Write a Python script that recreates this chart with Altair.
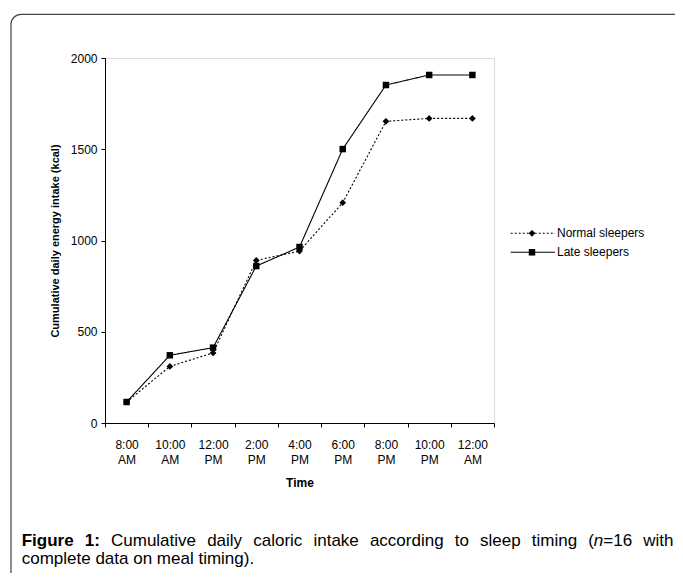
import altair as alt
import pandas as pd

times = ["8:00 AM", "10:00 AM", "12:00 PM", "2:00 PM", "4:00 PM",
         "6:00 PM", "8:00 PM", "10:00 PM", "12:00 AM"]
normal = [115, 310, 384, 891, 942, 1207, 1653, 1669, 1669]
late = [115, 371, 413, 860, 964, 1501, 1852, 1907, 1907]
series_names = ["Normal sleepers", "Late sleepers"]
y_title = "Cumulative daily energy intake (kcal)"
x_title = "Time"
# caption first line: (word, weight, style, joined-to-previous)
caption_line1 = [("Figure", "bold", "normal", False), ("1:", "bold", "normal", False),
                 ("Cumulative", "normal", "normal", False), ("daily", "normal", "normal", False),
                 ("caloric", "normal", "normal", False), ("intake", "normal", "normal", False),
                 ("according", "normal", "normal", False), ("to", "normal", "normal", False),
                 ("sleep", "normal", "normal", False), ("timing", "normal", "normal", False),
                 ("(", "normal", "normal", False), ("n", "normal", "italic", True),
                 ("=16", "normal", "normal", True), ("with", "normal", "normal", False)]
caption_line2 = "complete data on meal timing)."

FONT = "Arial, Liberation Sans, sans-serif"
CAP_FS = 17

# Arial / Liberation Sans advance widths (per 1000 em) for layout of the justified line
REG = {" ": 278, "(": 333, ")": 333, ".": 278, "=": 584, "1": 556, "6": 556, ":": 278,
       "a": 556, "c": 500, "d": 556, "e": 556, "g": 556, "h": 556, "i": 222, "k": 500,
       "l": 222, "m": 833, "n": 556, "o": 556, "p": 556, "r": 333, "s": 500, "t": 278,
       "u": 556, "v": 500, "w": 722, "y": 500, "C": 722}
BOLD = {"F": 611, "i": 278, "g": 611, "u": 611, "r": 389, "e": 556, "1": 556, ":": 333}


def text_w(s, weight):
    tab = BOLD if weight == "bold" else REG
    return sum(tab.get(ch, 556) for ch in s) * CAP_FS / 1000.0


rows = []
for name, vals in zip(series_names, [normal, late]):
    for t, v in zip(times, vals):
        rows.append({"time": t, "kcal": v, "series": name})
df = pd.DataFrame(rows)

W, H = 389, 365
OX = 105  # page x of plot origin (layout only)

x_enc = alt.X("time:N", sort=times,
              scale=alt.Scale(type="band", domain=times, paddingInner=0, paddingOuter=0),
              axis=alt.Axis(title=x_title, tickBand="extent", labelAngle=0,
                            labelExpr="split(datum.label, ' ')",
                            labelLineHeight=15, labelPadding=12, tickSize=4,
                            labelFontSize=12, titleFontSize=12, titleFontWeight="bold",
                            titlePadding=12, labelColor="#000", titleColor="#000",
                            domainColor="#000", tickColor="#000", labelFont=FONT,
                            titleFont=FONT))
y_enc = alt.Y("kcal:Q", scale=alt.Scale(domain=[0, 2000], nice=False),
              axis=alt.Axis(title=y_title, values=[0, 500, 1000, 1500, 2000],
                            format="d",
                            grid=False, tickSize=4, labelPadding=4, labelFontSize=12,
                            titleFontSize=11, titleFontWeight="bold", titlePadding=10,
                            labelColor="#000", titleColor="#000", domainColor="#000",
                            tickColor="#000", labelFont=FONT, titleFont=FONT))

dash_scale = alt.Scale(domain=series_names, range=[[2, 2], [1, 0]])
shape_scale = alt.Scale(domain=series_names, range=["diamond", "square"])
size_scale = alt.Scale(domain=series_names, range=[45, 42])

lines = alt.Chart(df).mark_line(color="#000", strokeWidth=1.1).encode(
    x=x_enc, y=y_enc,
    strokeDash=alt.StrokeDash("series:N", scale=dash_scale, legend=None),
    detail="series:N",
)
points = alt.Chart(df).mark_point(filled=True, color="#000", opacity=1).encode(
    x=x_enc, y=y_enc,
    shape=alt.Shape("series:N", scale=shape_scale, legend=None),
    size=alt.Size("series:N", scale=size_scale, legend=None),
)
main = alt.layer(lines, points)

leg_df = pd.DataFrame({"series": series_names})
leg_y = alt.Y("series:N", scale=alt.Scale(type="point", domain=series_names,
                                          range=[175.3, 194.3], padding=0), axis=None)
leg_rule = alt.Chart(leg_df).mark_rule(color="#000", strokeWidth=1.1).encode(
    x=alt.value(405.7), x2=alt.value(450), y=leg_y,
    strokeDash=alt.StrokeDash("series:N", scale=dash_scale, legend=None),
)
leg_pt = alt.Chart(leg_df).mark_point(filled=True, color="#000", opacity=1).encode(
    x=alt.value(427), y=leg_y,
    shape=alt.Shape("series:N", scale=shape_scale, legend=None),
    size=alt.Size("series:N", scale=size_scale, legend=None),
)
leg_txt = alt.Chart(leg_df).mark_text(align="left", baseline="middle", fontSize=12,
                                      font=FONT, color="#000").encode(
    x=alt.value(452), y=leg_y, text="series:N",
)
legend = alt.layer(leg_rule, leg_pt, leg_txt)


def cap(text, x, y, weight="normal", style="normal"):
    return alt.Chart(pd.DataFrame({"t": [text]})).mark_text(
        align="left", baseline="alphabetic", fontSize=CAP_FS, font=FONT, color="#000",
        fontWeight=weight, fontStyle=style,
    ).encode(x=alt.value(x - OX), y=alt.value(y), text="t:N")


# justified first line between page x 21.7 and 673.5
LEFT, RIGHT = 21.7, 673.5
Y1, Y2 = 546.0 - 57.7, 563.5 - 57.7
widths = [text_w(w, wt) for w, wt, st, j in caption_line1]
n_gaps = sum(1 for i, item in enumerate(caption_line1) if i > 0 and not item[3])
gap = (RIGHT - LEFT - sum(widths)) / n_gaps
cap_layers = []
xpos = LEFT
for i, ((w, wt, st, joined), wd) in enumerate(zip(caption_line1, widths)):
    if i > 0 and not joined:
        xpos += gap
    cap_layers.append(cap(w, xpos, Y1, weight=wt, style=st))
    xpos += wd
cap_layers.append(cap(caption_line2, LEFT, Y2))
caption = alt.layer(*cap_layers)

frame = alt.Chart(pd.DataFrame({"f": [0]})).mark_rect(
    fill=None, fillOpacity=0, stroke="#444", strokeWidth=1.2, cornerRadius=10,
).encode(x=alt.value(-94), x2=alt.value(700), y=alt.value(-43.7), y2=alt.value(600))

chart = alt.layer(frame, main, legend, caption).resolve_scale(
    y="independent"
).properties(
    width=W, height=H,
    autosize=alt.AutoSizeParams(type="none"),
    padding={"left": 97, "top": 50, "right": 181, "bottom": 150},
).configure_view(stroke=None).configure(background="white")

chart.save("out.html", embed_options={"renderer": "svg", "actions": False})
